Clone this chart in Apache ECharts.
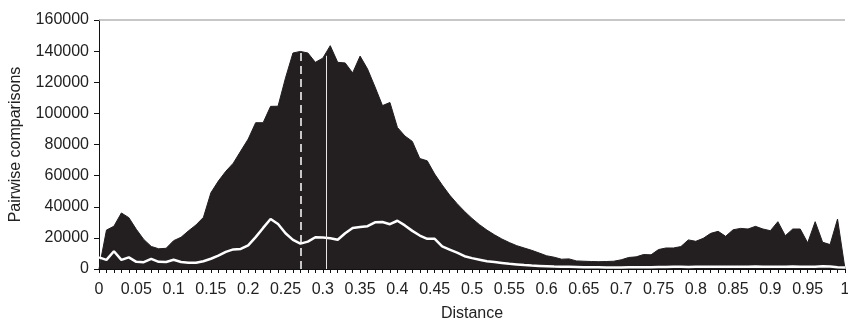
<!DOCTYPE html>
<html>
<head>
<meta charset="utf-8">
<script src="https://cdn.jsdelivr.net/npm/echarts@6/dist/echarts.min.js"></script>
<style>
  html, body { margin: 0; padding: 0; background: #fff; }
  #chart { width: 848px; height: 320px; }
</style>
</head>
<body>
<div id="chart"></div>
<script>
  // distance bins (x)
  var distances = [
    0, 0.01, 0.02, 0.03, 0.04, 0.05, 0.06, 0.07, 0.08, 0.09,
    0.1, 0.11, 0.12, 0.13, 0.14, 0.15, 0.16, 0.17, 0.18, 0.19,
    0.2, 0.21, 0.22, 0.23, 0.24, 0.25, 0.26, 0.27, 0.28, 0.29,
    0.3, 0.31, 0.32, 0.33, 0.34, 0.35, 0.36, 0.37, 0.38, 0.39,
    0.4, 0.41, 0.42, 0.43, 0.44, 0.45, 0.46, 0.47, 0.48, 0.49,
    0.5, 0.51, 0.52, 0.53, 0.54, 0.55, 0.56, 0.57, 0.58, 0.59,
    0.6, 0.61, 0.62, 0.63, 0.64, 0.65, 0.66, 0.67, 0.68, 0.69,
    0.7, 0.71, 0.72, 0.73, 0.74, 0.75, 0.76, 0.77, 0.78, 0.79,
    0.8, 0.81, 0.82, 0.83, 0.84, 0.85, 0.86, 0.87, 0.88, 0.89,
    0.9, 0.91, 0.92, 0.93, 0.94, 0.95, 0.96, 0.97, 0.98, 0.99, 1
  ];

  // all pairwise comparisons (black area)
  var allPairs = [
    0, 25000, 27500, 36000, 33000, 25500, 19000, 14500, 13000, 13300,
    18200, 20400, 24500, 28300, 33200, 49000, 56500, 62800, 68000, 75800,
    83500, 94000, 94000, 104500, 104600, 122800, 138800, 139800, 138800, 132800,
    135500, 143500, 132800, 132400, 126000, 136800, 128500, 117000, 105000, 107000,
    91000, 85500, 82000, 71000, 69500, 61000, 54000, 47500, 42000, 37000,
    32500, 28500, 25000, 22000, 19300, 17000, 15000, 13500, 12000, 10300,
    8500, 7600, 6300, 6500, 5200, 5000, 4800, 4700, 4800, 5000,
    5900, 7400, 7800, 9300, 9100, 12500, 13500, 13500, 14400, 18700,
    17800, 19700, 22900, 24200, 21000, 25200, 26100, 25700, 27400, 25700,
    24600, 30400, 21400, 25700, 25700, 16800, 30400, 17200, 15700, 32100, 0
  ];

  // subset comparisons (white line)
  var subsetPairs = [
    7500, 5900, 11400, 5900, 7500, 4600, 4400, 6500, 4600, 4500,
    5900, 4500, 4000, 4000, 5000, 6600, 8600, 11000, 12600, 12900,
    15200, 20500, 26400, 32100, 28900, 23000, 18700, 16300, 17600, 20400,
    20200, 19800, 18800, 23000, 26400, 27000, 27500, 30000, 30200, 28800,
    31000, 28000, 24500, 21500, 19400, 19400, 14500, 12500, 10500, 8200,
    7000, 6000, 5000, 4500, 3900, 3300, 2900, 2500, 2200, 2000,
    1800, 1600, 1500, 1400, 1300, 1200, 1100, 1100, 1000, 1000,
    1000, 1100, 1100, 1200, 1200, 1300, 1300, 1500, 1400, 1300,
    1400, 1400, 1500, 1400, 1500, 1500, 1400, 1500, 1600, 1400,
    1500, 1500, 1400, 1600, 1500, 1400, 1500, 1700, 1600, 1200, 1000
  ];

  // marker lines: [distance, top value]
  var dashedMark = [0.27, 139800];
  var solidMark = [0.305, 137000];

  var fontFam = '"Liberation Sans", Arial, sans-serif';

  function pairs(ys) {
    return distances.map(function (d, i) { return [d, ys[i]]; });
  }

  var myChart = echarts.init(document.getElementById('chart'), null, {renderer: 'canvas'});
  myChart.setOption({
    animation: false,
    grid: {left: 99, right: 3, top: 20, bottom: 51, outerBoundsMode: 'none', containLabel: false},
    xAxis: {
      type: 'value',
      min: 0,
      max: 1,
      interval: 0.05,
      name: 'Distance',
      nameLocation: 'middle',
      nameGap: 37,
      nameTextStyle: {color: '#222', fontFamily: fontFam, fontSize: 16},
      axisLine: {lineStyle: {color: '#111', width: 1}},
      axisTick: {show: true, length: 4, lineStyle: {color: '#111'}},
      minorTick: {show: true, splitNumber: 5, length: 4, lineStyle: {color: '#111'}},
      splitLine: {show: false},
      axisLabel: {
        color: '#222', fontFamily: fontFam, fontSize: 16, margin: 13,
        formatter: function (v) { return parseFloat(v.toFixed(2)).toString(); }
      }
    },
    yAxis: {
      type: 'value',
      min: 0,
      max: 160000,
      interval: 20000,
      name: 'Pairwise comparisons',
      nameLocation: 'middle',
      nameGap: 75,
      nameTextStyle: {color: '#222', fontFamily: fontFam, fontSize: 16},
      axisLine: {show: true, lineStyle: {color: '#111', width: 1}},
      axisTick: {show: true, length: 5, lineStyle: {color: '#111'}},
      splitLine: {show: false},
      axisLabel: {
        color: '#222', fontFamily: fontFam, fontSize: 16, margin: 10,
        formatter: function (v) { return String(v); }
      }
    },
    series: [
      {
        name: 'all',
        type: 'line',
        data: pairs(allPairs),
        symbol: 'none',
        lineStyle: {color: '#231f20', width: 1},
        areaStyle: {color: '#231f20', opacity: 1},
        z: 1,
        markLine: {
          silent: true,
          symbol: 'none',
          label: {show: false},
          data: [
            {yAxis: 160000, lineStyle: {color: '#b5b5b5', type: 'solid', width: 1.5}}
          ]
        }
      },
      {
        name: 'subset',
        type: 'line',
        data: pairs(subsetPairs),
        symbol: 'none',
        lineStyle: {color: '#ffffff', width: 2.5},
        z: 3,
        markLine: {
          silent: true,
          symbol: 'none',
          label: {show: false},
          data: [
            [
              {coord: [dashedMark[0], 0], lineStyle: {color: '#ffffff', type: [8, 5], width: 1.5}},
              {coord: [dashedMark[0], dashedMark[1]]}
            ],
            [
              {coord: [solidMark[0], 0], lineStyle: {color: '#e6e6e6', type: 'solid', width: 1}},
              {coord: [solidMark[0], solidMark[1]]}
            ]
          ]
        }
      }
    ]
  });
</script>
</body>
</html>
